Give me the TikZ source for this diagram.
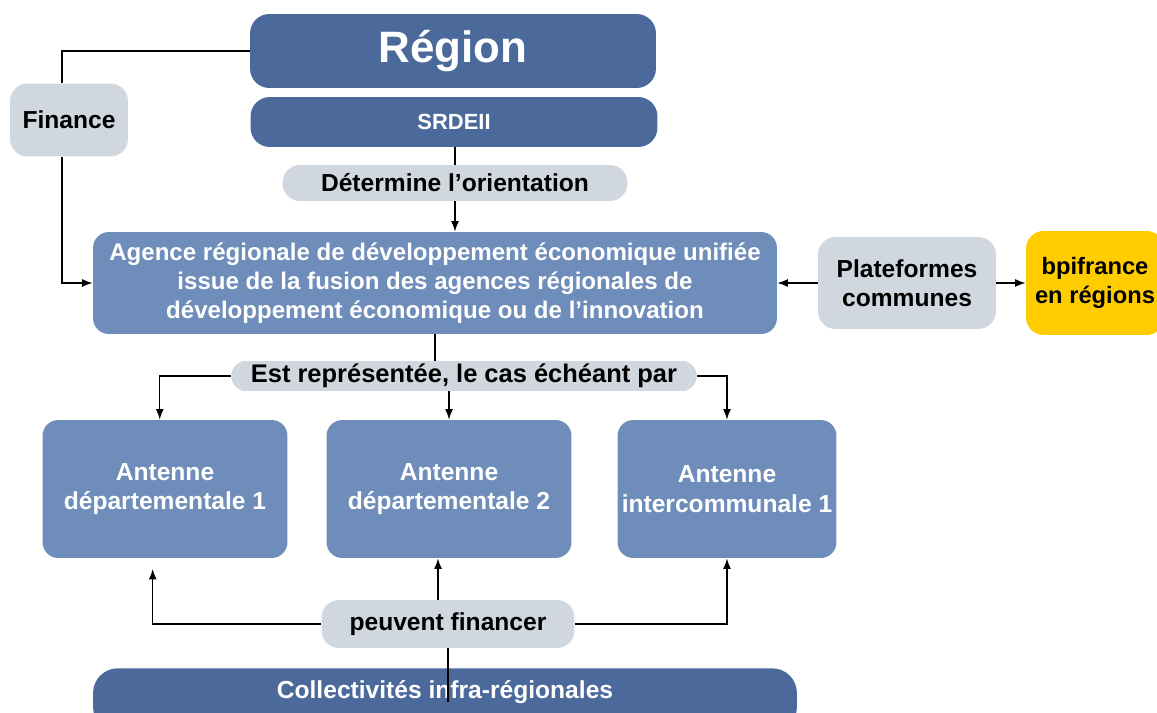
\documentclass[tikz,border=0pt]{standalone}
\usepackage{fontspec}
\setmainfont{Liberation Sans}
\usetikzlibrary{positioning,arrows.meta}
\definecolor{darkblue}{HTML}{4B6A9B}
\definecolor{midblue}{HTML}{6F8DBA}
\definecolor{lightgrey}{HTML}{D0D7DE}
\definecolor{bpiyellow}{HTML}{FFCC00}

\begin{document}
\begin{tikzpicture}[x=0.02cm,y=-0.02cm,
    every node/.style={font=\fontsize{14}{16.8}\selectfont\bfseries, align=center, inner sep=0pt},
    darkbox/.style={fill=darkblue, text=white, rounded corners=11pt},
    agencebox/.style={fill=midblue, text=white, rounded corners=9pt},
    greybox/.style={fill=lightgrey, text=black, rounded corners=10pt},
    link/.style={draw=black, line width=0.8pt},
    arrowlink/.style={link, -{Latex[length=6pt,width=4.5pt]}}]
  \clip (0,0) rectangle (1157,713);
  \useasboundingbox (0,0) rectangle (1157,713);

  % top
  \node[darkbox, minimum width=8.12cm, minimum height=1.48cm,
        font=\fontsize{25}{30}\selectfont\bfseries] (region) at (453,51) {Région};
  \node[darkbox, minimum width=8.14cm, minimum height=1.0cm,
        font=\fontsize{12.5}{15}\selectfont\bfseries] (srdeii) at (454,122) {SRDEII};
  \node[greybox, minimum width=2.36cm, minimum height=1.46cm] (finance) at (69,120) {Finance};
  \node[greybox, minimum width=6.9cm, minimum height=0.72cm] (orient) at (455,183) {Détermine l’orientation};

  % agence
  \node[agencebox, minimum width=13.68cm, minimum height=2.04cm,
        font=\fontsize{13.7}{16.5}\selectfont\bfseries] (agence) at (435,283)
    {Agence régionale de développement économique unifiée\\
     issue de la fusion des agences régionales de\\
     développement économique ou de l’innovation};
  \node[greybox, minimum width=3.56cm, minimum height=1.84cm] (plateformes) at (907,283) {Plateformes\\communes};
  \node[greybox, fill=bpiyellow, minimum width=2.76cm, minimum height=2.08cm,
        font=\fontsize{13.5}{16.5}\selectfont\bfseries] (bpi) at (1095,283) {bpifrance\\en régions};

  % antennes
  \node[greybox, rounded corners=8pt, minimum width=9.3cm, minimum height=0.6cm,
        font=\fontsize{14.5}{17}\selectfont\bfseries] (repr) at (464,376) {Est représentée, le cas échéant par};
  \node[agencebox, minimum width=4.9cm, minimum height=2.76cm] (ant1) at (165,489) {Antenne\\départementale 1};
  \node[agencebox, minimum width=4.9cm, minimum height=2.76cm] (ant2) at (449,489) {Antenne\\départementale 2};
  \node[agencebox, minimum width=4.38cm, minimum height=2.76cm] (ant3) at (727,489) {Antenne\\intercommunale 1};

  % bottom
  \node[greybox, minimum width=5.06cm, minimum height=0.96cm] (financer) at (448,624) {peuvent financer};
  \node[darkbox, rounded corners=14pt, anchor=north, minimum width=14.08cm,
        text height=17pt, text depth=19pt] (collect) at (445,668) {Collectivités infra-régionales};
  \coordinate (collend) at (448,702);

  % connectors
  \draw[link] ([xshift=-4pt]finance.north) |- (region.west);
  \draw[arrowlink] ([xshift=-4pt]finance.south) |- (agence.west);
  \draw[link] (orient.north |- srdeii.south) -- (orient.north);
  \draw[arrowlink] (orient.south) -- (orient.south |- agence.north);
  \draw[arrowlink] (plateformes.west) -- (agence.east);
  \draw[arrowlink] (plateformes.east) -- (bpi.west);
  \draw[link] (agence.south) -- (agence.south |- repr.north);
  \draw[arrowlink] (repr.west) -| ([xshift=-3pt]ant1.north);
  \draw[arrowlink] (repr.south -| ant2.north) -- (ant2.north);
  \draw[arrowlink] (repr.east) -| (ant3.north);
  \draw[arrowlink, shorten >=6pt] (financer.west) -| ([xshift=-7pt]ant1.south);
  \draw[arrowlink] (financer.north -| 438,0) -- (ant2.south -| 438,0);
  \draw[arrowlink] (financer.east) -| (ant3.south);
  \draw[link, line width=1.6pt] (financer.south) -- (collend);
\end{tikzpicture}
\end{document}
